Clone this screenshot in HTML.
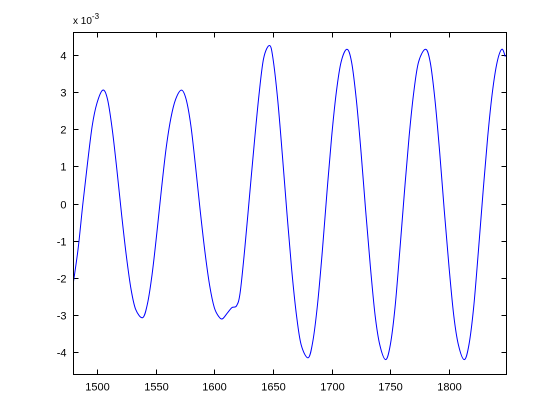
<!DOCTYPE html>
<html><head><meta charset="utf-8"><style>
body{margin:0;background:#fff;}
svg{display:block;font-family:"Liberation Sans",Arial,sans-serif;}
</style></head><body>
<svg id="chart" width="560" height="420">
<rect x="0" y="0" width="560" height="420" fill="#fff"/>
<g id="ticks"></g>
<path id="series" fill="none" stroke="#0000ff" stroke-width="1"/>
<rect x="73.5" y="32.5" width="433" height="342" fill="none" stroke="#000" stroke-width="1"/>
<text x="73" y="24" font-size="10">x 10<tspan dy="-5" font-size="8">-3</tspan></text>
</svg>
<script>
const xs=[1480,1484,1488,1492,1496,1500,1505,1509,1513,1517,1521,1525,1529,1533,1539,1543,1547,1551,1555,1559,1563,1567,1572,1576,1580,1584,1588,1592,1596,1600,1604,1607,1611,1615,1619,1622,1626,1630,1634,1638,1642,1647,1650,1654,1658,1662,1666,1670,1674,1680,1684,1688,1692,1696,1700,1704,1708,1713,1717,1721,1725,1729,1733,1737,1741,1746,1750,1754,1758,1762,1766,1770,1774,1780,1784,1788,1792,1796,1800,1804,1808,1813,1817,1821,1825,1829,1833,1837,1841,1845,1848];
const ys=[-2.1,-1.2,0.0,1.1,2.1,2.7,3.05,2.8,2.0,0.9,-0.3,-1.4,-2.3,-2.85,-3.07,-2.7,-1.9,-0.8,0.4,1.5,2.3,2.8,3.05,2.8,2.1,1.0,-0.2,-1.3,-2.2,-2.8,-3.05,-3.1,-2.95,-2.8,-2.75,-2.4,-1.2,0.2,1.6,2.9,3.9,4.25,3.9,2.8,1.3,-0.3,-1.8,-3.0,-3.8,-4.15,-3.7,-2.7,-1.3,0.3,1.8,3.0,3.8,4.15,3.8,2.8,1.4,-0.2,-1.7,-3.0,-3.8,-4.2,-3.8,-2.8,-1.3,0.3,1.8,3.0,3.8,4.15,3.8,2.8,1.4,-0.2,-1.7,-3.0,-3.8,-4.2,-3.8,-2.8,-1.3,0.3,1.8,3.0,3.8,4.15,3.95];
const xTicks=[1500,1550,1600,1650,1700,1750,1800];
const yTicks=[-4,-3,-2,-1,0,1,2,3,4];
const X0=73.5,X1=506.5,Y0=32.5,Y1=374.5,xmin=1480,xmax=1849,ymin=-4.6,ymax=4.6;
function sx(v){return X0+(v-xmin)/(xmax-xmin)*(X1-X0);}
function sy(v){return Y1-(v-ymin)/(ymax-ymin)*(Y1-Y0);}
const pts=xs.map((x,i)=>[sx(x),sy(ys[i])]);
let d='M'+pts[0][0].toFixed(2)+','+pts[0][1].toFixed(2);
for(let i=0;i<pts.length-1;i++){
 const p0=pts[Math.max(0,i-1)],p1=pts[i],p2=pts[i+1],p3=pts[Math.min(pts.length-1,i+2)];
 const c1=[p1[0]+(p2[0]-p0[0])/6,p1[1]+(p2[1]-p0[1])/6];
 const c2=[p2[0]-(p3[0]-p1[0])/6,p2[1]-(p3[1]-p1[1])/6];
 d+=' C'+c1.map(v=>v.toFixed(2)).join(',')+' '+c2.map(v=>v.toFixed(2)).join(',')+' '+p2.map(v=>v.toFixed(2)).join(',');
}
document.getElementById('series').setAttribute('d',d);
const g=document.getElementById('ticks');
const NS='http://www.w3.org/2000/svg';
function mk(tag,attrs){const e=document.createElementNS(NS,tag);for(const k in attrs)e.setAttribute(k,attrs[k]);g.appendChild(e);return e;}
xTicks.forEach(t=>{
 const x=Math.round(sx(t))+0.5;
 const a=mk('line',{x1:x,x2:x,y1:Y1,y2:Y1-5,stroke:'#000'});
 
 
 const b=mk('line',{x1:x,x2:x,y1:Y0,y2:Y0+5,stroke:'#000'});
 
 
 const tx=mk('text',{x:x,y:Y1+16,'font-size':'11','text-anchor':'middle'});
 tx.textContent=t;
 
 
});
yTicks.forEach(t=>{
 const y=Math.round(sy(t))+0.5;
 const a=mk('line',{x1:X0,x2:X0+5,y1:y,y2:y,stroke:'#000'});
 
 
 const b=mk('line',{x1:X1,x2:X1-5,y1:y,y2:y,stroke:'#000'});
 
 
 const tx=mk('text',{x:X0-7,y:y+4,'font-size':'11','text-anchor':'end'});
 tx.textContent=t;
 
 
});
</script>
</body></html>
